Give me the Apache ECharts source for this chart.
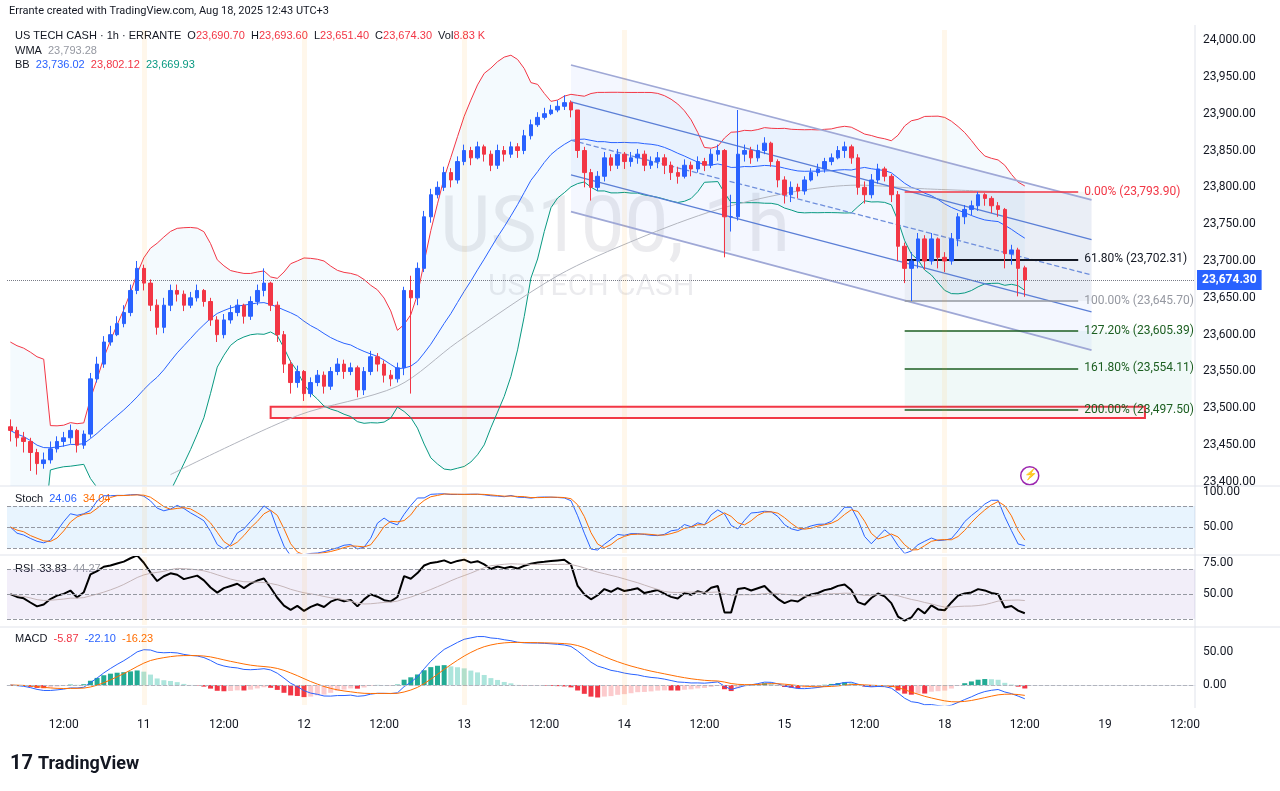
<!DOCTYPE html>
<html>
<head>
<meta charset="utf-8">
<script src="https://cdn.jsdelivr.net/npm/echarts@6/dist/echarts.min.js"></script>
<style>
html,body{margin:0;padding:0;background:#fff;}
#chart{width:1280px;height:791px;}
</style>
</head>
<body>
<div id="chart"></div>
<script>
// hourly closes, from Aug 10 04:00 to Aug 18 12:00 (weekend skipped)
var closes = [
23470,23460,23455,23440,23425,23430,23445,23455,23460,23470,23450,23465,
23540,23560,23590,23600,23615,23630,23660,23690,
23670,23640,23610,23640,23660,23655,23640,23650,23660,23645,23620,23600,23620,23630,23640,23625,23645,23660,23670,23640,
23600,23560,23535,23550,23520,23535,23545,23530,23550,23560,23550,23555,23525,23550,23570,23560,23545,23540,23555,
23660,23650,23690,23760,23790,23800,23820,23810,23835,23850,23840,23855,23845,23830,23850,23845,23855,23850,23870,23885,23895,23900,23905,23910,23915,
23905,23850,23820,23800,23815,23840,23830,23845,23835,23840,23845,23830,23835,23840,23830,23820,23815,23830,23825,23835,23830,23845,23850,23760,23760,23845,23850,23840,23850,23860,23835,23810,23790,23800,23795,23810,23820,23825,23835,23840,23850,23855,23840,23800,23790,23810,23825,23815,
23790,23720,23690,23700,23730,23700,23730,23705,23700,23730,23760,23770,23775,23790,23785,23775,23770,23710,23715,23690,23674.3
];
var firstOpen = 23475;
var highs = [
23485,23475,23468,23460,23445,23440,23455,23462,23468,23478,23472,23470,
23548,23570,23598,23612,23625,23640,23668,23700,
23695,23675,23648,23650,23668,23668,23660,23658,23668,23662,23650,23625,23628,23640,23648,23642,23652,23668,23690,23672,
23645,23605,23565,23558,23552,23542,23552,23550,23556,23568,23566,23562,23558,23556,23578,23575,23565,23552,23562,
23665,23680,23698,23768,23798,23808,23828,23826,23842,23858,23855,23862,23858,23850,23858,23856,23862,23860,23878,23892,23902,23908,23912,23918,23925,
23918,23905,23855,23825,23822,23848,23845,23852,23848,23848,23852,23850,23842,23848,23845,23835,23828,23838,23835,23842,23840,23852,23858,23852,23790,23905,23858,23855,23858,23868,23862,23838,23815,23808,23805,23815,23826,23832,23840,23846,23856,23862,23858,23845,23808,23818,23832,23828,
23818,23795,23725,23712,23738,23735,23738,23732,23712,23738,23765,23776,23782,23793.9,23792,23788,23780,23772,23722,23718,23693.6
];
var lows = [
23455,23448,23440,23415,23410,23418,23425,23440,23448,23452,23440,23445,
23460,23535,23555,23585,23598,23610,23625,23655,
23660,23632,23600,23602,23632,23645,23632,23636,23645,23638,23612,23590,23595,23615,23625,23615,23620,23640,23652,23632,
23590,23548,23520,23528,23510,23515,23530,23520,23525,23545,23540,23545,23515,23518,23545,23550,23535,23530,23535,
23545,23520,23640,23685,23752,23785,23795,23800,23805,23830,23830,23838,23835,23822,23825,23835,23840,23840,23845,23865,23882,23892,23898,23902,23905,
23895,23840,23800,23782,23795,23808,23822,23825,23825,23828,23832,23822,23825,23826,23818,23810,23805,23812,23815,23820,23822,23826,23836,23705,23740,23755,23835,23832,23835,23845,23828,23800,23778,23780,23785,23790,23808,23815,23820,23830,23838,23840,23832,23790,23778,23785,23805,23808,
23780,23700,23670,23645.7,23690,23688,23695,23690,23685,23695,23720,23750,23762,23768,23775,23765,23760,23690,23695,23652,23651.4
];
// long WMA: [index, value]
var wmaPts = [[24,23410],[43,23490],[58,23530],[67,23590],[82,23680],[94,23730],[106,23770],[118,23795],[127,23803],[137,23798],[152,23793]];

var days = ['10','11','12','13','14','15','18','19'];
var nCats = 178;
var dayStarts = [20,44,68,92,140];

// channel and fib levels
var chanX = [84,162];
var chanTop = [23966,23783], chanUp = [23916,23729], chanMid = [23864,23681], chanLow = [23817,23631], chanBot = [23767,23579];
var fibLevels = [
  {t:'0.00%', v:23793.90, c:'#f23645'},
  {t:'61.80%', v:23702.31, c:'#131722'},
  {t:'100.00%', v:23645.70, c:'#9598a1'},
  {t:'127.20%', v:23605.39, c:'#1b5e20'},
  {t:'161.80%', v:23554.11, c:'#1b5e20'},
  {t:'200.00%', v:23497.50, c:'#1b5e20'}
];
var lastPrice = 23674.30;

// ---------- build
var cats = [];
for (var i = 0; i < nCats; i++){
  var h = (4 + i) % 24, d = Math.floor((4 + i) / 24);
  cats.push(h == 0 ? days[d] : (h == 12 ? '12:00' : ''));
}
var candles = [];
for (var i = 0; i < closes.length; i++){
  var o = i == 0 ? firstOpen : closes[i-1];
  if (i == closes.length - 1) o = 23690.7;
  candles.push([o, closes[i], lows[i], highs[i]]);
}
function fmt(v){ return v.toLocaleString('en-US',{minimumFractionDigits:2,maximumFractionDigits:2}); }

// indicators derived from the candles
function sma(arr, n){ var r=[]; for (var i=0;i<arr.length;i++){ var s=0,c=0; for (var j=Math.max(0,i-n+1);j<=i;j++){ if(arr[j]!=null){s+=arr[j];c++;} } r.push(c?s/c:null);} return r; }
function ema(arr, n){ var r=[], k=2/(n+1), p=arr[0]; for (var i=0;i<arr.length;i++){ p = i==0?arr[0]:arr[i]*k+p*(1-k); r.push(p);} return r; }
var bbMid = sma(closes, 20), bbUp = [], bbLo = [];
for (var i=0;i<closes.length;i++){
  var s=0,c=0; for (var j=Math.max(0,i-19);j<=i;j++){ s+=Math.pow(closes[j]-bbMid[i],2); c++; }
  var sd = Math.sqrt(s/c); if (i < 6) sd = Math.max(sd, 60);
  bbUp.push(bbMid[i]+2*sd); bbLo.push(bbMid[i]-2*sd);
}
var bbDiff = bbUp.map(function(v,i){ return v-bbLo[i]; });
var raw = [];
for (var i=0;i<closes.length;i++){
  var hh=-1e9, ll=1e9; for (var j=Math.max(0,i-13);j<=i;j++){ hh=Math.max(hh,highs[j]); ll=Math.min(ll,lows[j]); }
  raw.push(hh==ll?50:(closes[i]-ll)/(hh-ll)*100);
}
var stK = sma(raw, 3);
var stD = sma(stK, 3);
var rsi = [], ag=0, al=0;
for (var i=0;i<closes.length;i++){
  var ch = i==0?0:closes[i]-closes[i-1];
  var g = Math.max(ch,0), l = Math.max(-ch,0);
  if (i==0){ ag=8; al=8; } else { ag=(ag*13+g)/14; al=(al*13+l)/14; }
  rsi.push(100 - 100/(1+ag/al));
}
var rsiMa = sma(rsi, 14);
var e12 = ema(closes,12), e26 = ema(closes,26);
var macd = e12.map(function(v,i){ return v-e26[i]; });
var sig = ema(macd, 9);
var hist = macd.map(function(v,i){ return v-sig[i]; });
var histData = hist.map(function(v,i){
  var prev = i>0?hist[i-1]:v, col;
  if (v>=0) col = v>=prev ? '#22ab94' : '#ace5dc'; else col = v<prev ? '#f23645' : '#fccbcd';
  return {value:v, itemStyle:{color:col}};
});

var L = 7, W = 1188;
var grids = [
  {left:L, width:W, top:30, height:455},
  {left:L, width:W, top:487, height:66},
  {left:L, width:W, top:557, height:68},
  {left:L, width:W, top:628, height:77}
];
var xAxes = grids.map(function(g, k){
  return {type:'category', gridIndex:k, data:cats, boundaryGap:true,
    axisLine:{show:k==3, lineStyle:{color:'#e0e3eb'}}, axisTick:{show:false},
    axisLabel:{show:k==3, interval:0, color:'#131722', fontSize:12, margin:14, hideOverlap:false},
    splitLine:{show:false}};
});
var lbl = {color:'#131722', fontSize:12, margin:8, formatter:function(v){ return fmt(v); }};
var yAxes = [
  {gridIndex:0, position:'right', min:23395.9, max:24013.6, axisLabel:Object.assign({customValues:[23400,23450,23500,23550,23600,23650,23700,23750,23800,23850,23900,23950,24000]},lbl), axisTick:{show:false}, axisLine:{show:false}, splitLine:{show:false}},
  {gridIndex:1, position:'right', min:13, max:107, axisLabel:Object.assign({customValues:[50,100]},lbl), axisTick:{show:false}, axisLine:{show:false}, splitLine:{show:false}},
  {gridIndex:2, position:'right', min:25, max:80, axisLabel:Object.assign({customValues:[50,75]},lbl), axisTick:{show:false}, axisLine:{show:false}, splitLine:{show:false}},
  {gridIndex:3, position:'right', min:-30, max:86, axisLabel:Object.assign({customValues:[0,50]},lbl), axisTick:{show:false}, axisLine:{show:false}, splitLine:{show:false}}
];
function dayBands(){
  return {silent:true, symbol:'none', label:{show:false}, lineStyle:{color:'rgba(255,152,0,0.08)', width:5, type:'solid'},
    data: dayStarts.map(function(d){ return {xAxis:d}; })};
}
function seg(a, b, color, type, w){
  return {type:'line', xAxisIndex:0, yAxisIndex:0, symbol:'none', silent:true, z:3,
    data:[[chanX[0],a],[chanX[1],b]], lineStyle:{color:color, width:w||1.3, type:type||'solid'}};
}
function dash(v){ return {yAxis:v}; }

var fibLines = fibLevels.map(function(f){
  return [{coord:[134,f.v], lineStyle:{color:f.c, width:f.v==23702.31?2:1.5, type:'solid'},
    label:{show:true, position:'end', distance:6, color:f.c, fontSize:12, formatter:f.t+' ('+fmt(f.v)+')'}},
    {coord:[160,f.v]}];
});

var series = [
  // channel fill
  {type:'custom', xAxisIndex:0, yAxisIndex:0, silent:true, z:1,
    renderItem:function(params, api){
      var p = [api.coord([chanX[0],chanTop[0]]), api.coord([chanX[1],chanTop[1]]), api.coord([chanX[1],chanBot[1]]), api.coord([chanX[0],chanBot[0]])];
      return {type:'polygon', shape:{points:p}, style:{fill:'rgba(41,98,255,0.05)'}};
    }, data:[[0]]},
  {type:'line', name:'bbbase', xAxisIndex:0, yAxisIndex:0, data:bbLo, stack:'bb', symbol:'none', lineStyle:{opacity:0}, silent:true, z:1},
  {type:'line', name:'bbfill', xAxisIndex:0, yAxisIndex:0, data:bbDiff, stack:'bb', symbol:'none', lineStyle:{opacity:0}, areaStyle:{color:'rgba(33,150,243,0.07)'}, silent:true, z:1},
  {type:'line', xAxisIndex:0, yAxisIndex:0, data:bbUp, symbol:'none', lineStyle:{color:'#f23645', width:1}, z:2},
  {type:'line', xAxisIndex:0, yAxisIndex:0, data:bbLo, symbol:'none', lineStyle:{color:'#089981', width:1}, z:2},
  {type:'line', xAxisIndex:0, yAxisIndex:0, data:bbMid, symbol:'none', lineStyle:{color:'#2962ff', width:1}, z:2},
  {type:'line', xAxisIndex:0, yAxisIndex:0, data:wmaPts, symbol:'none', smooth:0.3, lineStyle:{color:'#b2b5be', width:1}, z:2},
  seg(chanTop[0], chanTop[1], '#9fa8d6', 'solid', 1.6),
  seg(chanUp[0], chanUp[1], '#5b7fd6'),
  seg(chanMid[0], chanMid[1], '#6f8fdc', 'dashed'),
  seg(chanLow[0], chanLow[1], '#5b7fd6'),
  seg(chanBot[0], chanBot[1], '#9fa8d6', 'solid', 1.6),
  {type:'candlestick', xAxisIndex:0, yAxisIndex:0, data:candles, barWidth:4, z:5,
    itemStyle:{color:'#2962ff', color0:'#f23645', borderColor:'#2962ff', borderColor0:'#f23645', borderWidth:1},
    markArea:{silent:true, data:[
      [{coord:[39,23487], itemStyle:{color:'rgba(242,54,69,0.06)', borderColor:'#f23645', borderWidth:2}},{coord:[170,23502]}],
      [{coord:[134,23497.5], itemStyle:{color:'rgba(8,153,129,0.06)'}},{coord:[177,23605.39]}],
      [{coord:[134,23645.7], itemStyle:{color:'rgba(120,123,134,0.07)'}},{coord:[162,23793.9]}]
    ]},
    markLine:{silent:true, symbol:'none', animation:false, data:fibLines.concat([
      {yAxis:lastPrice, lineStyle:{color:'#787b86', type:'dotted', width:1},
        label:{show:true, position:'end', distance:2, formatter:fmt(lastPrice), color:'#fff', backgroundColor:'#2962ff', padding:[4,5], fontSize:12, fontWeight:'bold'}}
    ])}
  },
  {type:'line', xAxisIndex:0, yAxisIndex:0, data:[], markLine:dayBands()},
  // stoch
  {type:'line', xAxisIndex:1, yAxisIndex:1, data:stK, symbol:'none', lineStyle:{color:'#2962ff', width:1},
    markArea:{silent:true, itemStyle:{color:'rgba(33,150,243,0.1)'}, data:[[{yAxis:20},{yAxis:80}]]},
    markLine:{silent:true, symbol:'none', label:{show:false}, lineStyle:{color:'#9598a1', type:'dashed', width:1}, data:[dash(80),dash(50),dash(20)]}},
  {type:'line', xAxisIndex:1, yAxisIndex:1, data:stD, symbol:'none', lineStyle:{color:'#ff6d00', width:1}},
  {type:'line', xAxisIndex:1, yAxisIndex:1, data:[], markLine:dayBands()},
  // rsi
  {type:'line', xAxisIndex:2, yAxisIndex:2, data:rsi, symbol:'none', lineStyle:{color:'#000', width:2},
    markArea:{silent:true, itemStyle:{color:'rgba(126,87,194,0.1)'}, data:[[{yAxis:30},{yAxis:70}]]},
    markLine:{silent:true, symbol:'none', label:{show:false}, lineStyle:{color:'#9598a1', type:'dashed', width:1}, data:[dash(70),dash(50),dash(30)]}},
  {type:'line', xAxisIndex:2, yAxisIndex:2, data:rsiMa, symbol:'none', lineStyle:{color:'#c4b5b8', width:1}},
  {type:'line', xAxisIndex:2, yAxisIndex:2, data:[], markLine:dayBands()},
  // macd
  {type:'bar', xAxisIndex:3, yAxisIndex:3, data:histData, barWidth:5,
    markLine:{silent:true, symbol:'none', label:{show:false}, lineStyle:{color:'#b2b5be', type:'dashed', width:1}, data:[dash(0)]}},
  {type:'line', xAxisIndex:3, yAxisIndex:3, data:macd, symbol:'none', lineStyle:{color:'#2962ff', width:1}},
  {type:'line', xAxisIndex:3, yAxisIndex:3, data:sig, symbol:'none', lineStyle:{color:'#ff6d00', width:1}},
  {type:'line', xAxisIndex:3, yAxisIndex:3, data:[], markLine:dayBands()}
];

function t(x, y, parts){
  return {type:'text', left:x, top:y, style:{rich:{a:{fill:'#131722',fontSize:11},r:{fill:'#f23645',fontSize:11},b:{fill:'#2962ff',fontSize:11},g:{fill:'#089981',fontSize:11},o:{fill:'#ff6d00',fontSize:11},s:{fill:'#9598a1',fontSize:11}}, text:parts, fontFamily:'Roboto'}};
}
var graphics = [
  {type:'text', left:9, top:6, style:{text:'Errante created with TradingView.com, Aug 18, 2025 12:43 UTC+3', fill:'#131722', fontSize:11, fontFamily:'Roboto'}},
  t(15, 30, '{a|US TECH CASH · 1h · ERRANTE  O}{r|23,690.70}{a|  H}{r|23,693.60}{a|  L}{r|23,651.40}{a|  C}{r|23,674.30}{a|  Vol}{r|8.83 K}'),
  t(15, 45, '{a|WMA  }{s|23,793.28}'),
  t(15, 59, '{a|BB  }{b|23,736.02}{a|  }{r|23,802.12}{a|  }{g|23,669.93}'),
  t(15, 493, '{a|Stoch  }{b|24.06}{a|  }{o|34.04}'),
  t(15, 563, '{a|RSI  33.83  }{s|44.27}'),
  t(15, 633, '{a|MACD  }{r|-5.87}{a|  }{b|-22.10}{a|  }{o|-16.23}'),
  {type:'text', left:440, top:192, z:0, style:{text:'US100, 1h', fill:'rgba(120,123,140,0.15)', fontSize:78, fontFamily:'Roboto'}},
  {type:'text', left:488, top:272, z:0, style:{text:'US TECH CASH', fill:'rgba(120,123,140,0.15)', fontSize:30, fontFamily:'Roboto'}},
  {type:'circle', left:1020, top:466, shape:{r:9}, style:{fill:'#fff', stroke:'#9c27b0', lineWidth:1.5}},
  {type:'text', left:1024, top:469, style:{text:'⚡', fill:'#9c27b0', fontSize:11}},
  {type:'line', shape:{x1:0,y1:486,x2:1280,y2:486}, style:{stroke:'#e0e3eb'}},
  {type:'line', shape:{x1:0,y1:555,x2:1280,y2:555}, style:{stroke:'#e0e3eb'}},
  {type:'line', shape:{x1:0,y1:627,x2:1280,y2:627}, style:{stroke:'#e0e3eb'}},
  {type:'line', shape:{x1:1195,y1:25,x2:1195,y2:708}, style:{stroke:'#e0e3eb'}},
  {type:'text', left:10, top:754, style:{text:'17', fill:'#131722', fontSize:20, fontWeight:'bold', fontFamily:'Roboto'}},
  {type:'text', left:38, top:755, style:{text:'TradingView', fill:'#131722', fontSize:18, fontWeight:'bold', fontFamily:'Roboto'}}
];

var chart = echarts.init(document.getElementById('chart'));
chart.setOption({
  animation:false,
  textStyle:{fontFamily:'Roboto'},
  grid:grids, xAxis:xAxes, yAxis:yAxes, series:series, graphic:graphics
});
</script>
</body>
</html>
